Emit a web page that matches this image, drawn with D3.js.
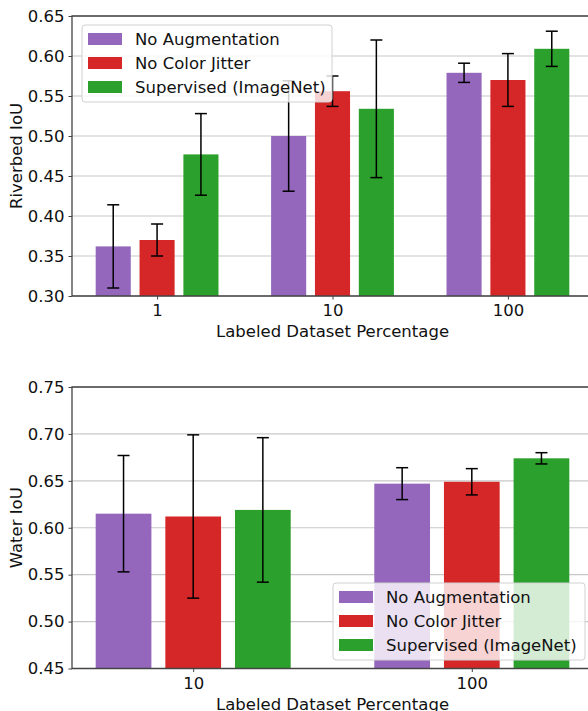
<!DOCTYPE html>
<html>
<head>
<meta charset="utf-8">
<script src="https://cdn.jsdelivr.net/npm/d3@7"></script>
<style>
  body { margin: 0; background: #fff; }
  svg { display: block; font-family: "DejaVu Sans", sans-serif; }
</style>
</head>
<body>
<div id="canvas"></div>
<script>
// series shared by both panels
var seriesNames = ["No Augmentation", "No Color Jitter", "Supervised (ImageNet)"];
var seriesColors = ["#9467bd", "#d62728", "#2ca02c"];

// top panel: Riverbed IoU
var riverbedCats = ["1", "10", "100"];
var riverbedNoAug = [0.362, 0.500, 0.579];
var riverbedNoAugErr = [0.052, 0.069, 0.012];
var riverbedNoJitter = [0.370, 0.556, 0.570];
var riverbedNoJitterErr = [0.020, 0.019, 0.033];
var riverbedSup = [0.477, 0.534, 0.609];
var riverbedSupErr = [0.051, 0.086, 0.022];
var riverbedTicks = [0.30, 0.35, 0.40, 0.45, 0.50, 0.55, 0.60, 0.65];

// bottom panel: Water IoU
var waterCats = ["10", "100"];
var waterNoAug = [0.615, 0.647];
var waterNoAugErr = [0.062, 0.017];
var waterNoJitter = [0.612, 0.649];
var waterNoJitterErr = [0.087, 0.014];
var waterSup = [0.619, 0.674];
var waterSupErr = [0.077, 0.006];
var waterTicks = [0.45, 0.50, 0.55, 0.60, 0.65, 0.70, 0.75];

var W = 588, H = 711;
var FS = "16.5px";
var svg = d3.select("#canvas").append("svg")
  .attr("width", W).attr("height", H);

var barW = 0.2, step = 0.25;

function drawPanel(cfg) {
  var g = svg.append("g");
  var n = cfg.cats.length;
  // matplotlib style margins: bars span -0.35..n-1+0.35, 5% pad
  var lo = -step - barW / 2, hi = n - 1 + step + barW / 2;
  var pad = (hi - lo) * 0.05;
  var x = d3.scaleLinear().domain([lo - pad, hi + pad]).range([72, 593]);
  var y = d3.scaleLinear().domain(cfg.yDomain).range([cfg.bottom, cfg.top]);

  // grid
  g.append("g").selectAll("line").data(cfg.ticks).enter().append("line")
    .attr("x1", x.range()[0]).attr("x2", x.range()[1])
    .attr("y1", function(d) { return y(d); }).attr("y2", function(d) { return y(d); })
    .style("stroke", "#c8c8c8").style("stroke-width", 1.2);

  // bars
  var rows = [];
  cfg.series.forEach(function(s, si) {
    s.vals.forEach(function(v, ci) {
      rows.push({si: si, ci: ci, v: v, e: s.errs[ci]});
    });
  });
  function cx(d) { return x(d.ci + (d.si - 1) * step); }

  g.append("g").selectAll("rect").data(rows).enter().append("rect")
    .attr("x", function(d) { return x(d.ci + (d.si - 1) * step - barW / 2); })
    .attr("width", function(d) { return x(barW) - x(0); })
    .attr("y", function(d) { return y(d.v); })
    .attr("height", function(d) { return y(cfg.yDomain[0]) - y(d.v); })
    .style("fill", function(d) { return seriesColors[d.si]; });

  // error bars
  var eb = g.append("g").selectAll("g").data(rows).enter().append("g")
    .style("stroke", "#000").style("stroke-width", 1.5);
  eb.append("line")
    .attr("x1", cx).attr("x2", cx)
    .attr("y1", function(d) { return y(d.v - d.e); })
    .attr("y2", function(d) { return y(d.v + d.e); });
  eb.append("line")
    .attr("x1", function(d) { return cx(d) - 6; }).attr("x2", function(d) { return cx(d) + 6; })
    .attr("y1", function(d) { return y(d.v + d.e); }).attr("y2", function(d) { return y(d.v + d.e); });
  eb.append("line")
    .attr("x1", function(d) { return cx(d) - 6; }).attr("x2", function(d) { return cx(d) + 6; })
    .attr("y1", function(d) { return y(d.v - d.e); }).attr("y2", function(d) { return y(d.v - d.e); });

  // spines
  var x0 = x.range()[0], x1 = x.range()[1];
  g.append("path")
    .attr("d", "M" + x0 + "," + cfg.top + "H" + x1 + "V" + cfg.bottom + "H" + x0 + "Z")
    .style("fill", "none").style("stroke", "#444").style("stroke-width", 1.3);

  // y axis
  var yAxis = d3.axisLeft(y).tickValues(cfg.ticks).tickFormat(d3.format(".2f"))
    .tickSize(3.5).tickPadding(4);
  var ya = g.append("g").attr("transform", "translate(" + x0 + ",0)").call(yAxis);
  ya.select(".domain").remove();
  ya.selectAll("line").style("stroke", "#444");
  ya.selectAll("text").style("font-size", FS).style("fill", "#111")
    .style("font-family", "DejaVu Sans");

  // x axis
  var xAxis = d3.axisBottom(x).tickValues(d3.range(n))
    .tickFormat(function(i) { return cfg.cats[i]; }).tickSize(3.5).tickPadding(5);
  var xa = g.append("g").attr("transform", "translate(0," + cfg.bottom + ")").call(xAxis);
  xa.select(".domain").remove();
  xa.selectAll("line").style("stroke", "#444");
  xa.selectAll("text").style("font-size", FS).style("fill", "#111")
    .style("font-family", "DejaVu Sans");

  g.append("text")
    .attr("x", (x0 + x1) / 2).attr("y", cfg.bottom + 41)
    .attr("text-anchor", "middle").style("font-size", FS).style("fill", "#111")
    .text("Labeled Dataset Percentage");

  g.append("text")
    .attr("transform", "translate(22," + (cfg.top + cfg.bottom) / 2 + ") rotate(-90)")
    .attr("text-anchor", "middle").style("font-size", FS).style("fill", "#111")
    .text(cfg.ylabel);

  // legend
  var lg = g.append("g").attr("transform", "translate(" + cfg.legend[0] + "," + cfg.legend[1] + ")");
  lg.append("rect").attr("width", cfg.legend[2]).attr("height", 77)
    .attr("rx", 3).attr("ry", 3)
    .style("fill", "#fff").style("fill-opacity", 0.8)
    .style("stroke", "#d0d0d0").style("stroke-width", 1);
  seriesNames.forEach(function(name, i) {
    lg.append("rect").attr("x", 6).attr("y", 8 + i * 24).attr("width", 34).attr("height", 12)
      .style("fill", seriesColors[i]);
    lg.append("text").attr("x", 53).attr("y", 20 + i * 24)
      .style("font-size", FS).style("fill", "#111").text(name);
  });
}

drawPanel({
  cats: riverbedCats,
  series: [
    {vals: riverbedNoAug, errs: riverbedNoAugErr},
    {vals: riverbedNoJitter, errs: riverbedNoJitterErr},
    {vals: riverbedSup, errs: riverbedSupErr}
  ],
  yDomain: [0.30, 0.65], ticks: riverbedTicks,
  top: 16, bottom: 296,
  ylabel: "Riverbed IoU",
  legend: [82, 25, 250]
});

drawPanel({
  cats: waterCats,
  series: [
    {vals: waterNoAug, errs: waterNoAugErr},
    {vals: waterNoJitter, errs: waterNoJitterErr},
    {vals: waterSup, errs: waterSupErr}
  ],
  yDomain: [0.45, 0.75], ticks: waterTicks,
  top: 387, bottom: 668.5,
  ylabel: "Water IoU",
  legend: [333, 583, 252]
});
</script>
</body>
</html>
